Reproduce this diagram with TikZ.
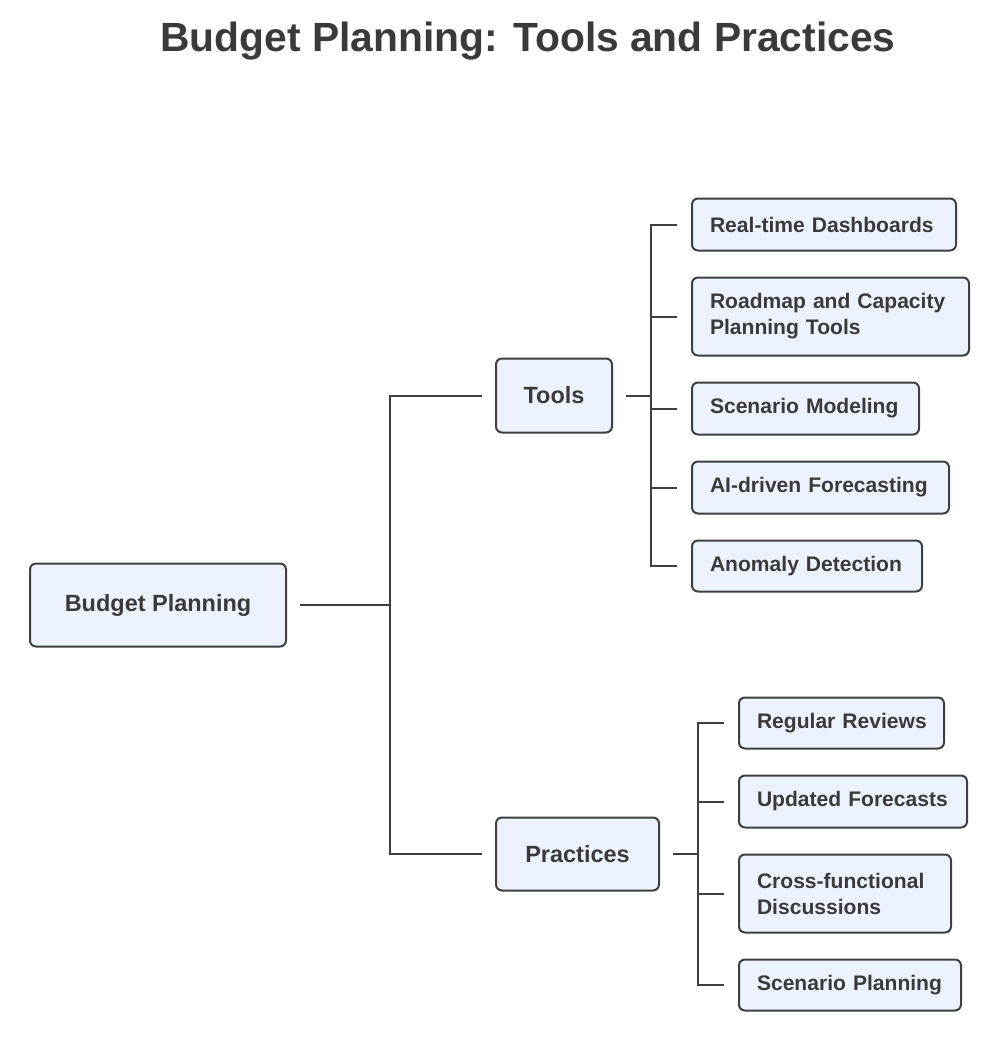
\documentclass[tikz,border=0pt]{standalone}
\usepackage{fontspec}
\setmainfont{Liberation Sans}
\definecolor{boxfill}{HTML}{EDF3FE}
\definecolor{boxdraw}{HTML}{3F3F3F}
\definecolor{txt}{HTML}{3A3A3A}
\begin{document}
\begin{tikzpicture}[x=0.75pt,y=-0.75pt,
  box/.style={draw=boxdraw,fill=boxfill,line width=1.5pt,rounded corners=4.5pt,text=txt,font=\bfseries},
  mainbox/.style={box,inner sep=0pt,align=center,font=\fontsize{17.6}{21}\selectfont\bfseries},
  leafbox/.style={box,anchor=west,inner xsep=13.5pt,inner ysep=0pt,align=left,font=\fontsize{15.8}{19.5}\selectfont\bfseries},
  conn/.style={draw=boxdraw,line width=1.5pt},
]
\useasboundingbox (0,0) rectangle (1000,1039);
% title
\node[text=txt,font=\fontsize{30.6}{36}\selectfont\bfseries] (title) at (528,41) {Budget Planning: Tools and Practices};
% main nodes
\node[mainbox,minimum width=192pt,minimum height=62.25pt] (bp) at (158,605) {Budget Planning};
\node[mainbox,minimum width=87pt,minimum height=55.5pt] (tools) at (554,395.5) {Tools};
\node[mainbox,minimum width=122.25pt,minimum height=54.75pt] (prac) at (577.5,854) {Practices};
% tools leaves
\node[leafbox,text width=171pt,minimum height=39pt] (rtd) at (691,224.5) {\mbox{Real-time Dashboards}};
\node[leafbox,text width=180.75pt,minimum height=58.5pt] (rm) at (691,316.5) {\mbox{Roadmap and Capacity}\\\mbox{Planning Tools}};
\node[leafbox,text width=143.25pt,minimum height=39pt] (sm) at (691,408.5) {\mbox{Scenario Modeling}};
\node[leafbox,text width=165.75pt,minimum height=39pt] (ai) at (691,487.5) {\mbox{AI-driven Forecasting}};
\node[leafbox,text width=145.5pt,minimum height=38.25pt] (ad) at (691,566) {\mbox{Anomaly Detection}};
% practices leaves
\node[leafbox,text width=126.75pt,minimum height=38.25pt] (rr) at (738,723) {\mbox{Regular Reviews}};
\node[leafbox,text width=144pt,minimum height=39pt] (uf) at (738,801.5) {\mbox{Updated Forecasts}};
\node[leafbox,text width=132pt,minimum height=58.5pt] (cf) at (738,893.5) {\mbox{Cross-functional}\\\mbox{Discussions}};
\node[leafbox,text width=139.5pt,minimum height=38.25pt] (sp) at (738,985) {\mbox{Scenario Planning}};
% junctions
\coordinate (j0) at (390,605);
\coordinate (j1) at (651,395.5);
\coordinate (j2) at (698,854);
% connectors
\draw[conn,shorten <=9.75pt,shorten >=9.75pt] (bp.east) -- (j0) |- (tools.west);
\draw[conn,shorten <=9.75pt,shorten >=9.75pt] (bp.east) -- (j0) |- (prac.west);
\foreach \c in {rtd,rm,sm,ai,ad}{
  \draw[conn,shorten <=9.75pt,shorten >=10.5pt] (tools.east) -- (j1) |- (\c.west);
}
\foreach \c in {rr,uf,cf,sp}{
  \draw[conn,shorten <=9.75pt,shorten >=10.5pt] (prac.east) -- (j2) |- (\c.west);
}
\end{tikzpicture}
\end{document}
